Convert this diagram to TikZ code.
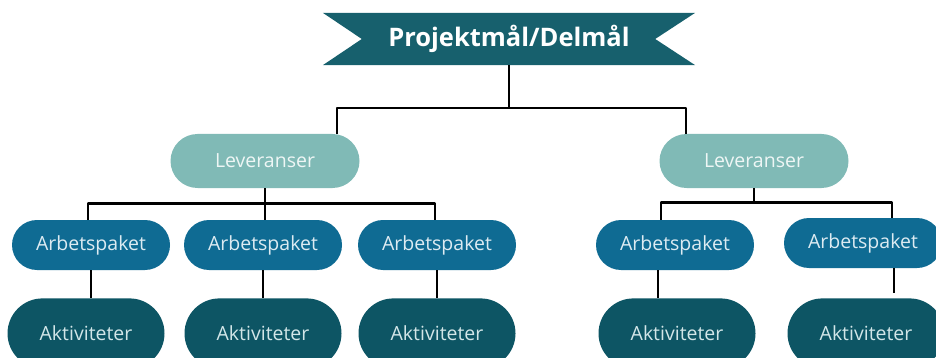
\documentclass[tikz,border=0pt]{standalone}
\usepackage{fontspec}
\setmainfont{Open Sans}
\usetikzlibrary{%
  positioning,% wg. " of "
  shapes.misc,% wg. rounded rectangle
  backgrounds%
}
\definecolor{bannerfill}{HTML}{17606D}
\definecolor{levfill}{HTML}{80BAB6}
\definecolor{levtext}{HTML}{EEF6F5}
\definecolor{apfill}{HTML}{0F6B93}
\definecolor{aptext}{HTML}{DDEBF2}
\definecolor{aktfill}{HTML}{0D5564}
\definecolor{akttext}{HTML}{D2E6E8}

\begin{document}
\begin{tikzpicture}[
    x=1pt,y=-1pt,
    line join=round,
    box/.style={rounded rectangle,inner sep=0pt,
        font=\fontsize{19.5}{19.5}\selectfont},
    leveranse/.style={box,fill=levfill,text=levtext,
        minimum width=189pt,minimum height=54pt},
    arbetspaket/.style={box,fill=apfill,text=aptext,
        minimum width=158pt,minimum height=50pt},
    aktivitet/.style={box,fill=aktfill,text=akttext,
        minimum width=157pt,minimum height=70pt},
    banner/.style={rectangle,inner sep=0pt,text=white,
        minimum width=372pt,minimum height=52pt,
        font=\bfseries\fontsize{25.5}{25.5}\selectfont},
    link/.style={draw=black,line width=2.8pt},
    node distance=28pt
  ]

    \path[use as bounding box,clip] (0,0) rectangle (936,358);

    % Kopf
    \node (title) [banner] at (509,39) {Projektmål/Delmål};
    \begin{scope}[on background layer]
      \fill[bannerfill] (title.north west) -- (title.north east)
        -- ([xshift=-40pt]title.east) -- (title.south east)
        -- (title.south west) -- ([xshift=39pt]title.west) -- cycle;
    \end{scope}

    % Leveranser
    \node (lev1) [leveranse] at (265,161) {Leveranser};
    \node (lev2) [leveranse] at (754,161) {Leveranser};

    % Arbetspaket
    \node (ap1) [arbetspaket] at (91,245)  {Arbetspaket};
    \node (ap2) [arbetspaket] at (263,245) {Arbetspaket};
    \node (ap3) [arbetspaket] at (437,245) {Arbetspaket};
    \node (ap4) [arbetspaket] at (675,245) {Arbetspaket};
    \node (ap5) [arbetspaket] at (863,243) {Arbetspaket};

    % Aktiviteter
    \node (akt1) [aktivitet,below=of ap1,xshift=-5pt] {Aktiviteter};
    \node (akt2) [aktivitet,below=of ap2]             {Aktiviteter};
    \node (akt3) [aktivitet,below=of ap3]             {Aktiviteter};
    \node (akt4) [aktivitet,below=of ap4,xshift=2pt]  {Aktiviteter};
    \node (akt5) [aktivitet,below=30pt of ap5,xshift=3pt] {Aktiviteter};

    \coordinate (bus0) at (509,108);
    \coordinate [below=15pt of lev1.south] (bus1);
    \coordinate [below=14pt of lev2.south] (bus2);

    \begin{scope}[every path/.style=link]
     \draw (title.south) -- (bus0);
     \draw ([xshift=72pt]lev1.north) |- (bus0) -| ([xshift=-68pt]lev2.north);
     \draw (lev1.south) -- (bus1);
     \draw ([xshift=-3pt]ap1.north) |- (bus1) -| ([xshift=-2pt]ap3.north);
     \draw (bus1) -- (bus1 |- ap2.north);
     \draw (lev2.south) -- (bus2);
     \draw ([xshift=-14pt]ap4.north) |- (bus2) -| ([xshift=29pt]ap5.north);
     \draw (ap1.south) -- (ap1.south |- akt1.north);
     \draw (ap2.south) -- (ap2.south |- akt2.north);
     \draw (ap3.south) -- (ap3.south |- akt3.north);
     \draw ([xshift=-17pt]ap4.south) -- ([xshift=-17pt]ap4.south |- akt4.north);
     \draw[shorten >=5pt] ([xshift=31pt]ap5.south)
       -- ([xshift=31pt]ap5.south |- akt5.north);
    \end{scope}
\end{tikzpicture}
\end{document}
